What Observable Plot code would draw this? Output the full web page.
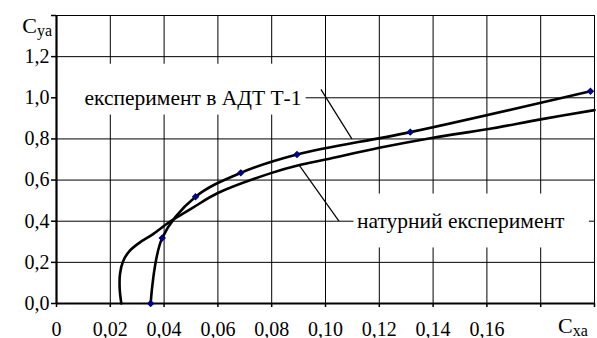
<!DOCTYPE html>
<html>
<head>
<meta charset="utf-8">
<script src="https://cdn.jsdelivr.net/npm/d3@7"></script>
<script src="https://cdn.jsdelivr.net/npm/@observablehq/plot@0.6"></script>
<style>
  html, body { margin: 0; padding: 0; background: white; }
  svg { display: block; }
</style>
</head>
<body>
<div id="chart"></div>
<script>
// Experiment in wind tunnel (АДТ Т-1), measured points
const cxADT = [0.035, 0.0393, 0.0517, 0.0685, 0.0894, 0.1315, 0.1985];
const cyADT = [0.0, 0.318, 0.519, 0.635, 0.724, 0.833, 1.032];
// Full-scale (натурний) experiment curve
const cxNat = [0.0241, 0.0235, 0.0236, 0.0248, 0.0272, 0.0309, 0.0359, 0.0408, 0.0445, 0.0507, 0.0600, 0.0800, 0.0900, 0.1000, 0.1200, 0.1400, 0.1600, 0.1800, 0.2000];
const cyNat = [0.0, 0.07, 0.143, 0.207, 0.256, 0.296, 0.337, 0.385, 0.417, 0.466, 0.537, 0.635, 0.672, 0.700, 0.757, 0.806, 0.847, 0.895, 0.940];

const xTicks = [0, 0.02, 0.04, 0.06, 0.08, 0.10, 0.12, 0.14, 0.16, 0.18, 0.20];
const xTickLabels = ["0", "0,02", "0,04", "0,06", "0,08", "0,10", "0,12", "0,14", "0,16", "", ""];
const yTicks = [0, 0.2, 0.4, 0.6, 0.8, 1.0, 1.2, 1.4];
const yTickLabels = ["0,0", "0,2", "0,4", "0,6", "0,8", "1,0", "1,2", ""];

// Annotations
const labelText = ["експеримент в АДТ Т-1", "натурний експеримент"];
const labelX = [0.0104, 0.1117];
const labelY = [1.0, 0.4];
const boxX1 = [0.0, 0.1106];
const boxX2 = [0.0928, 0.1981];
const boxY1 = [0.916, 0.27];
const boxY2 = [1.163, 0.532];
const leaderX1 = [0.0983, 0.0902];
const leaderY1 = [1.041, 0.673];
const leaderX2 = [0.1098, 0.1050];
const leaderY2 = [0.800, 0.400];

const adt = cxADT.map((x, i) => ({x, y: cyADT[i]}));
const nat = cxNat.map((x, i) => ({x, y: cyNat[i]}));
const boxes = boxX1.map((_, i) => ({x1: boxX1[i], x2: boxX2[i], y1: boxY1[i], y2: boxY2[i]}));
const labels = labelText.map((t, i) => ({t, x: labelX[i], y: labelY[i]}));
const leaders = leaderX1.map((_, i) => ({x1: leaderX1[i], y1: leaderY1[i], x2: leaderX2[i], y2: leaderY2[i]}));

const FONT = "Liberation Serif";

const chart = Plot.plot({
  width: 597,
  height: 338,
  marginLeft: 56,
  marginRight: 3,
  marginTop: 15,
  marginBottom: 35,
  style: {fontFamily: FONT, fontSize: "20px"},
  x: {domain: [0, 0.2]},
  y: {domain: [0, 1.4]},
  marks: [
    Plot.gridX(xTicks, {stroke: "black", strokeOpacity: 1, strokeWidth: 1}),
    Plot.gridY(yTicks, {stroke: "black", strokeOpacity: 1, strokeWidth: 1}),
    Plot.rect(boxes, {x1: "x1", x2: "x2", y1: "y1", y2: "y2", fill: "white"}),
    Plot.ruleX([0], {stroke: "black", strokeWidth: 2.2}),
    Plot.ruleY([0], {stroke: "black", strokeWidth: 2.2}),
    Plot.axisX(xTicks, {tickSize: 4, tickPadding: 14, tickFormat: (d, i) => xTickLabels[i], fontSize: 20, fontFamily: FONT, stroke: "black", strokeWidth: 1.5}),
    Plot.axisY(yTicks, {tickSize: 5, tickPadding: 2, tickFormat: (d, i) => yTickLabels[i], fontSize: 20, fontFamily: FONT, stroke: "black", strokeWidth: 1.5}),
    Plot.link(leaders, {x1: "x1", y1: "y1", x2: "x2", y2: "y2", stroke: "black", strokeWidth: 1.2}),
    Plot.line(nat, {x: "x", y: "y", curve: "catmull-rom", stroke: "black", strokeWidth: 2.6}),
    Plot.line(adt, {x: "x", y: "y", curve: "catmull-rom", stroke: "black", strokeWidth: 2.6}),
    Plot.dot(adt, {x: "x", y: "y", symbol: "diamond2", r: 2.6, fill: "#000080", stroke: "#000080", strokeWidth: 1.2}),
    Plot.text(labels, {x: "x", y: "y", text: "t", textAnchor: "start", fontSize: 21.5, fontFamily: FONT, fill: "black"})
  ]
});

document.getElementById("chart").appendChild(chart);

// Axis titles with subscripts
const svg = d3.select(chart);
const ya = svg.append("text")
  .attr("x", 52).attr("y", 33)
  .attr("text-anchor", "end")
  .style("font-family", FONT)
  .attr("font-size", 22).attr("fill", "black");
ya.append("tspan").text("C");
ya.append("tspan").attr("font-size", 16).attr("dy", 3).text("ya");

const xa = svg.append("text")
  .attr("x", 558).attr("y", 333)
  .attr("text-anchor", "start")
  .style("font-family", FONT)
  .attr("font-size", 22).attr("fill", "black");
xa.append("tspan").text("C");
xa.append("tspan").attr("font-size", 16).attr("dy", 3).text("xa");
</script>
</body>
</html>
